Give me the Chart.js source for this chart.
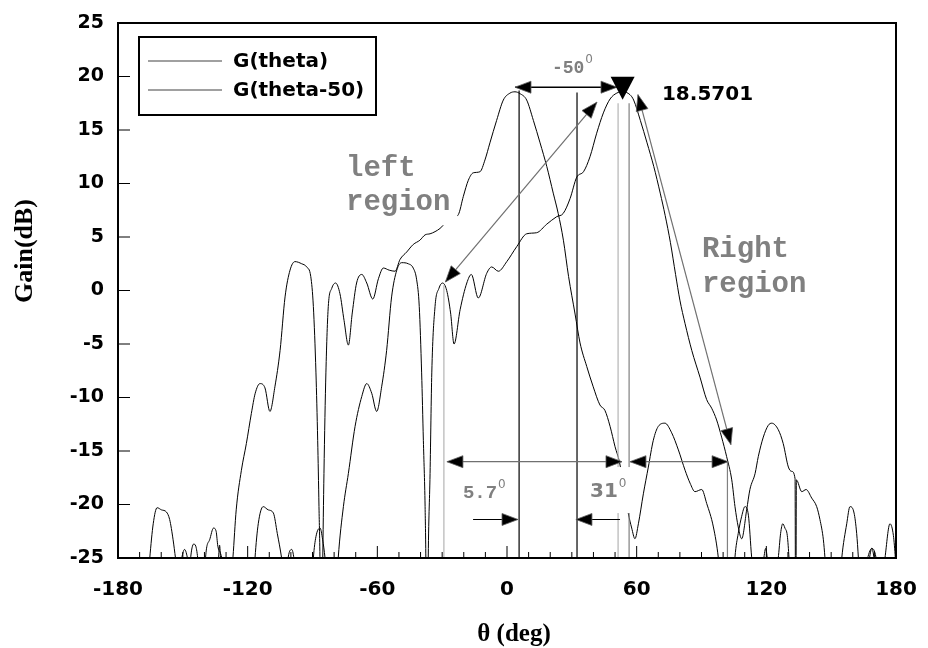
<!DOCTYPE html>
<html>
<head>
<meta charset="utf-8">
<script src="https://cdn.jsdelivr.net/npm/chart.js@4.4.0/dist/chart.umd.min.js"></script>
<style>
  html, body { margin: 0; padding: 0; background: #fff; }
  #wrap { width: 928px; height: 648px; }
</style>
</head>
<body>
<div id="wrap"><canvas id="c" width="928" height="648"></canvas></div>
<script>
// ---- pattern G(theta): angle (deg) and gain (dB) ----
const thetaA = [-180, -168, -165.3, -163.7, -161.9, -159.9, -157.6, -156.1, -154.5, -153.4, -152, -150.7, -149.2, -147.7, -146,
  -140, -139.5, -137.6, -135.8, -134.6, -133.8, -132.5, -131.5, -129, -126.8, -125.3, -122.9, -120.6, -118.3, -116.5,
  -114.3, -112, -109.7, -107.4, -105, -102.7, -100.4, -98.1, -95, -92.7, -90.8, -89.6, -88.4, -87.6, -87, -86.5, -86,
  -85.3, -84.7, -83.8, -82.7, -81.1, -79.3, -77.3, -75.4, -73.4, -71.6, -69.6, -67.2, -64.9, -62.1, -59.5, -57.2, -54.5,
  -51.8, -49.5, -46.4, -43.4, -40.3, -37.9, -35.6, -33.3, -31, -28, -25, -22.5, -20.2, -17.9, -15.6, -12.5, -10.2, -7.9,
  -4.8, -1.7, 1.4, 3.7, 6, 9.1, 12.2, 15.3, 18.4, 21.4, 23.7, 26.1, 28.5, 31.5, 33.8, 36.9, 39.9, 43, 45.3, 47.7, 50,
  52, 54, 56.1, 57.7, 59.2, 60.8, 63.1, 65.4, 67.7, 70, 73.1, 76.2, 79.3, 82.4, 84.7, 87, 90.1, 92.4, 95.5, 97.8, 100,
  104, 105.5, 107, 108.6, 110.1, 111.7, 113.2, 115, 118.6, 119.7, 120.6, 122.5, 125.5, 126.6, 127.6, 128.6, 129.7,
  130.5, 132, 162, 166.5, 168.8, 171, 173, 180];
const gainA = [-32, -32, -25, -21.8, -20.3, -20.5, -20.7, -21.4, -23.3, -25, -27, -25.2, -24.2, -25.2, -28,
  -28, -25, -23.3, -22.2, -22.5, -23.9, -24.6, -25.5, -30, -24.9, -20.5, -16.8, -14.3, -11.5, -9.6,
  -8.7, -9.1, -11.3, -9.0, -5.6, -0.6, 1.9, 2.7, 2.5, 2.2, 1.3, -1.5, -7.7, -14, -20.2, -26, -40,
  -26, -17.1, -7.7, -1.5, 0.2, 0.7, -0.3, -2.8, -5.1, -2.1, 0.7, 1.5, 0.7, -0.8, 1.1, 2.1, 1.9,
  1.8, 2.9, 3.6, 4.3, 4.7, 5.2, 5.3, 5.5, 5.8, 6.4, 6.8, 7.1, 8.8, 10.3, 11.0, 11.1, 12.2, 13.8,
  15.9, 17.8, 18.45, 18.5701, 18.4, 17.8, 15.9, 13.8, 11.6, 9.1, 7.2, 4.7, 1.3, -2.2, -4.9, -7.1, -9, -10.7, -11.2, -12.7, -14.6,
  -16, -18.3, -20.8, -22.2, -23.2, -21.8, -19, -16.5, -14, -12.7, -12.4, -13.3, -14.9, -16.8, -18, -18.8, -18.6, -19.9, -22.1, -25, -30,
  -30, -24.9, -22.7, -21.1, -20.2, -21, -24.9, -28, -25.3, -24.1, -25.3, -28, -25, -22.7, -21.8, -22.2, -22.9,
  -25, -30, -30, -25.3, -24.1, -25.3, -30, -30];

// ---- pattern G(theta-50) ----
const thetaB = [-180, -148, -146.5, -145, -144, -143, -141, -134.5, -133.5, -133, -132.5, -131, -118, -116.6, -115.1,
  -112.8, -110.5, -108.1, -106.3, -104.3, -102.5, -101.5, -99.6, -98.4, -96, -91, -89.6, -88.4, -86.5, -85.3, -84.2,
  -82, -79.5, -78.1, -75.7, -73.4, -70.3, -67.2, -64.9, -62.6, -60.3, -58, -55.7, -53.4, -51, -48.7, -45.7, -43.4,
  -41.8, -40.6, -39.5, -38.7, -37.9, -37.5, -37, -36.5, -35.6, -34.8, -33.3, -31.5, -29.8, -27.9, -26.1, -24.5, -21.7,
  -18.6, -16.5, -13.3, -9.4, -7.1, -4, -0.1, 4.5, 9.1, 13.7, 18.4, 23, 26, 29.2, 32.3, 35.4, 38.4, 41.5, 44.6, 47.7,
  50.8, 53.5, 56.9, 58.6, 61.7, 64.8, 67.9, 70.9, 73.2, 75.6, 78, 80, 82.4, 85.5, 89.3, 92.4, 94.7, 97, 99.3, 101.6,
  104, 105.5, 107, 108.6, 110.9, 112.4, 114.8, 116.3, 118.6, 120.9, 122.5, 125.5, 127.8, 130.2, 131.7, 133.3, 133.6,
  133.9, 136.4, 138.4, 141, 143.3, 144.8, 146.4, 147.1, 149, 153, 154.9, 157.2, 158.7, 160.6, 161.8, 162.6, 164,
  167.5, 168.8, 170, 172, 174.9, 177.2, 178.8, 179.7, 180];
const gainB = [-32, -30, -25.2, -23.7, -23.9, -25.2, -30, -30, -25.2, -23.8, -25.2, -30, -30, -25, -21.8,
  -20.2, -20.5, -20.8, -22.7, -25, -28, -25.3, -24.2, -25.3, -30, -30, -25, -23, -22.2, -23.3, -25,
  -30, -30, -25, -20.2, -17.1, -12.7, -9.9, -8.7, -9.6, -11.3, -9.0, -5.6, -0.6, 1.9, 2.6, 2.5, 2.1,
  1.0, -1.5, -7.7, -14, -20.2, -26, -40, -26, -17.1, -7.7, -1.5, 0.2, 0.7, 0, -2.1, -5.0, -1.8,
  0.7, 1.5, -0.7, 1.6, 2.2, 1.8, 2.7, 4.1, 5.3, 5.4, 6.2, 6.9, 7.2, 8.6, 10.6, 11.1, 12.5, 14.7, 16.6, 17.9,
  18.45, 18.5701, 18.3, 17.8, 15.9, 13.8, 11.6, 9.1, 7.0, 4.5, 1.5, -0.9, -3.1, -5.6, -8.1, -10.2, -11, -12.1, -13.7, -15.5,
  -17.7, -20.2, -22.1, -23.2, -20.5, -18.6, -17.1, -15.5, -13.7, -12.6, -12.4, -13, -14.3, -16.5, -16.9, -17.6, -40,
  -17.7, -18.8, -18.6, -19.4, -20.2, -21.4, -23.3, -24.9, -30, -30, -25, -21.8, -20.2, -20.8, -22.7, -25, -30,
  -25.3, -24.1, -25.3, -30, -25, -21.8, -22.9, -25, -26];

// ---- axes ----
const xTickLabels = [-180, -120, -60, 0, 60, 120, 180];
const yTickLabels = [-25, -20, -15, -10, -5, 0, 5, 10, 15, 20, 25];

// ---- marked maximum of G(theta-50) ----
const peakTheta = 53.5;
const peakGain = 18.5701;

const GREY = '#808080';
const LIGHT = '#b4b4b4';
const MONO = '"Liberation Mono", "DejaVu Sans Mono", monospace';
const SANS = '"DejaVu Sans", sans-serif';
const SERIF = '"Liberation Serif", "Times New Roman", serif';

function toPoints(xs, ys) { return xs.map((t, i) => ({ x: t, y: ys[i] })); }

// annotation geometry, in axis units (deg, dB)
const guideLines = [
  { x: 5.6, y0: -25, y1: 18.7, color: '#000' },
  { x: 32.4, y0: -25, y1: 18.5, color: '#000' },
  { x: 51.4, y0: -25, y1: 17.5, color: LIGHT },
  { x: 56.5, y0: -25, y1: 17.5, color: GREY },
  { x: -29.2, y0: -25, y1: 0.5, color: LIGHT },
  { x: 102, y0: -25, y1: -16, color: GREY }
];
const arrows = [
  { from: [3.7, 19.0], to: [50.9, 19.0], both: true, line: '#000', head: '#000', w: 1.5 },
  { from: [-28.5, 0.8], to: [41.6, 17.6], both: true, line: '#707070', head: '#000', w: 1.2 },
  { from: [60.6, 18.3], to: [103.6, -14.4], both: true, line: '#707070', head: '#000', w: 1.2 },
  { from: [-27.8, -16.0], to: [53.2, -16.0], both: true, line: '#707070', head: '#000', w: 1.2 },
  { from: [56.9, -16.0], to: [102.3, -16.0], both: true, line: '#707070', head: '#000', w: 1.2 },
  { from: [-15.7, -21.4], to: [5.1, -21.4], both: false, line: '#000', head: '#000', w: 1.2 },
  { from: [52.3, -21.4], to: [31.9, -21.4], both: false, line: '#000', head: '#000', w: 1.2 }
];
const masks = [
  { x0: -77, x1: -23.1, y0: 13.0, y1: 6.1 },
  { x0: 36.6, x1: 59.2, y0: -16.5, y1: -20.8 }
];
const notes = [
  { text: 'left', x: -74.5, y: 10.7, font: 'bold 29px ' + MONO, color: GREY },
  { text: 'region', x: -74.5, y: 7.5, font: 'bold 29px ' + MONO, color: GREY },
  { text: 'Right', x: 90.2, y: 3.1, font: 'bold 29px ' + MONO, color: GREY },
  { text: 'region', x: 90.2, y: -0.15, font: 'bold 29px ' + MONO, color: GREY },
  { text: '-50', x: 20.8, y: 20.3, font: 'bold 18px ' + MONO, color: GREY, sup: '0' },
  { text: '5.7', x: -20.4, y: -19.4, font: 'bold 19px ' + MONO, color: GREY, sup: '0' },
  { text: '31', x: 38.4, y: -19.3, font: 'bold 20px ' + SANS, color: GREY, sup: '0' },
  { text: peakGain.toFixed(4), x: 71.7, y: 17.8, font: 'bold 20px ' + SANS, color: '#000' }
];

const decorations = {
  id: 'decorations',
  afterDatasetsDraw(chart) {
    const { ctx, chartArea: a, scales: { x, y } } = chart;
    const X = v => x.getPixelForValue(v);
    const Y = v => y.getPixelForValue(v);
    const seg = (x1, y1, x2, y2) => { ctx.beginPath(); ctx.moveTo(x1, y1); ctx.lineTo(x2, y2); ctx.stroke(); };
    ctx.save();

    // guide verticals
    ctx.lineWidth = 1.2;
    guideLines.forEach(g => { ctx.strokeStyle = g.color; seg(X(g.x), Y(g.y0), X(g.x), Y(g.y1)); });

    // white label backgrounds
    ctx.fillStyle = '#fff';
    masks.forEach(m => ctx.fillRect(X(m.x0), Y(m.y0), X(m.x1) - X(m.x0), Y(m.y1) - Y(m.y0)));

    // arrows
    const head = (px, py, ang, color) => {
      const L = 16, W = 6;
      ctx.beginPath();
      ctx.moveTo(px, py);
      ctx.lineTo(px - L * Math.cos(ang) + W * Math.sin(ang), py - L * Math.sin(ang) - W * Math.cos(ang));
      ctx.lineTo(px - L * Math.cos(ang) - W * Math.sin(ang), py - L * Math.sin(ang) + W * Math.cos(ang));
      ctx.closePath();
      ctx.fillStyle = color; ctx.fill();
      ctx.strokeStyle = '#606060'; ctx.lineWidth = 0.8; ctx.stroke();
    };
    arrows.forEach(ar => {
      const x1 = X(ar.from[0]), y1 = Y(ar.from[1]), x2 = X(ar.to[0]), y2 = Y(ar.to[1]);
      ctx.strokeStyle = ar.line; ctx.lineWidth = ar.w;
      seg(x1, y1, x2, y2);
      const ang = Math.atan2(y2 - y1, x2 - x1);
      head(x2, y2, ang, ar.head);
      if (ar.both) head(x1, y1, ang + Math.PI, ar.head);
    });

    // peak marker: downward triangle over the maximum
    const mx = X(peakTheta), my = Y(peakGain) - 7;
    ctx.beginPath();
    ctx.moveTo(mx - 12, my - 8);
    ctx.lineTo(mx + 12, my - 8);
    ctx.lineTo(mx, my + 15);
    ctx.closePath();
    ctx.fillStyle = '#000'; ctx.fill();

    // annotation text
    ctx.textBaseline = 'alphabetic'; ctx.textAlign = 'left';
    notes.forEach(n => {
      ctx.font = n.font; ctx.fillStyle = n.color;
      const px = X(n.x), py = Y(n.y);
      ctx.fillText(n.text, px, py);
      if (n.sup) {
        const w = ctx.measureText(n.text).width;
        ctx.font = '12px ' + SANS;
        ctx.fillText(n.sup, px + w + 1, py - 10);
      }
    });

    // inward tick marks
    ctx.strokeStyle = '#000'; ctx.lineWidth = 1;
    for (let t = -170; t < 180; t += 10) {
      const len = t % 60 === 0 ? 12 : 6;
      seg(X(t), a.bottom, X(t), a.bottom - len);
    }
    yTickLabels.forEach(v => { if (v > -25 && v < 25) seg(a.left, Y(v), a.left + 12, Y(v)); });

    // frame
    ctx.lineWidth = 2;
    ctx.strokeRect(a.left, a.top, a.right - a.left, a.bottom - a.top);

    // legend
    ctx.strokeRect(139, 37, 237, 78);
    ctx.font = 'bold 20px ' + SANS; ctx.textBaseline = 'middle'; ctx.fillStyle = '#000';
    chart.data.datasets.forEach((ds, i) => {
      const ly = 61 + i * 29;
      ctx.strokeStyle = GREY; ctx.lineWidth = 1.5;
      seg(148, ly, 222, ly);
      ctx.fillText(ds.label, 233, ly + 1);
    });

    // axis titles
    ctx.fillStyle = '#000';
    ctx.font = 'bold 25px ' + SERIF; ctx.textAlign = 'center'; ctx.textBaseline = 'middle';
    ctx.fillText('\u03b8 (deg)', (a.left + a.right) / 2 + 7, 635);
    ctx.translate(25, 251);
    ctx.rotate(-Math.PI / 2);
    ctx.font = 'bold 26px ' + SERIF;
    ctx.fillText('Gain(dB)', 0, 0);
    ctx.restore();
  }
};

new Chart(document.getElementById('c'), {
  type: 'line',
  data: {
    datasets: [
      { label: 'G(theta)', data: toPoints(thetaA, gainA), borderColor: '#000', borderWidth: 1,
        pointRadius: 0, cubicInterpolationMode: 'monotone', clip: 0, fill: false },
      { label: 'G(theta-50)', data: toPoints(thetaB, gainB), borderColor: '#000', borderWidth: 1,
        pointRadius: 0, cubicInterpolationMode: 'monotone', clip: 0, fill: false }
    ]
  },
  options: {
    responsive: false,
    animation: false,
    devicePixelRatio: 1,
    layout: { padding: { left: 0, right: 32, top: 23, bottom: 0 } },
    plugins: { legend: { display: false }, tooltip: { enabled: false } },
    scales: {
      x: {
        type: 'linear', min: -180, max: 180,
        afterBuildTicks: s => { s.ticks = xTickLabels.map(v => ({ value: v })); },
        afterFit: s => { s.height = 90; s.paddingLeft = 0; s.paddingRight = 0; },
        grid: { display: false, drawTicks: false },
        border: { display: false },
        ticks: { font: { family: SANS, weight: 'bold', size: 20 }, color: '#000', padding: 20,
                 maxRotation: 0, autoSkip: false }
      },
      y: {
        type: 'linear', min: -25, max: 25,
        afterBuildTicks: s => { s.ticks = yTickLabels.map(v => ({ value: v })); },
        afterFit: s => { s.width = 118; s.paddingTop = 0; s.paddingBottom = 0; },
        grid: { display: false, drawTicks: false },
        border: { display: false },
        ticks: { font: { family: SANS, weight: 'bold', size: 19 }, color: '#000', padding: 14, autoSkip: false }
      }
    }
  },
  plugins: [decorations]
});
</script>
</body>
</html>
